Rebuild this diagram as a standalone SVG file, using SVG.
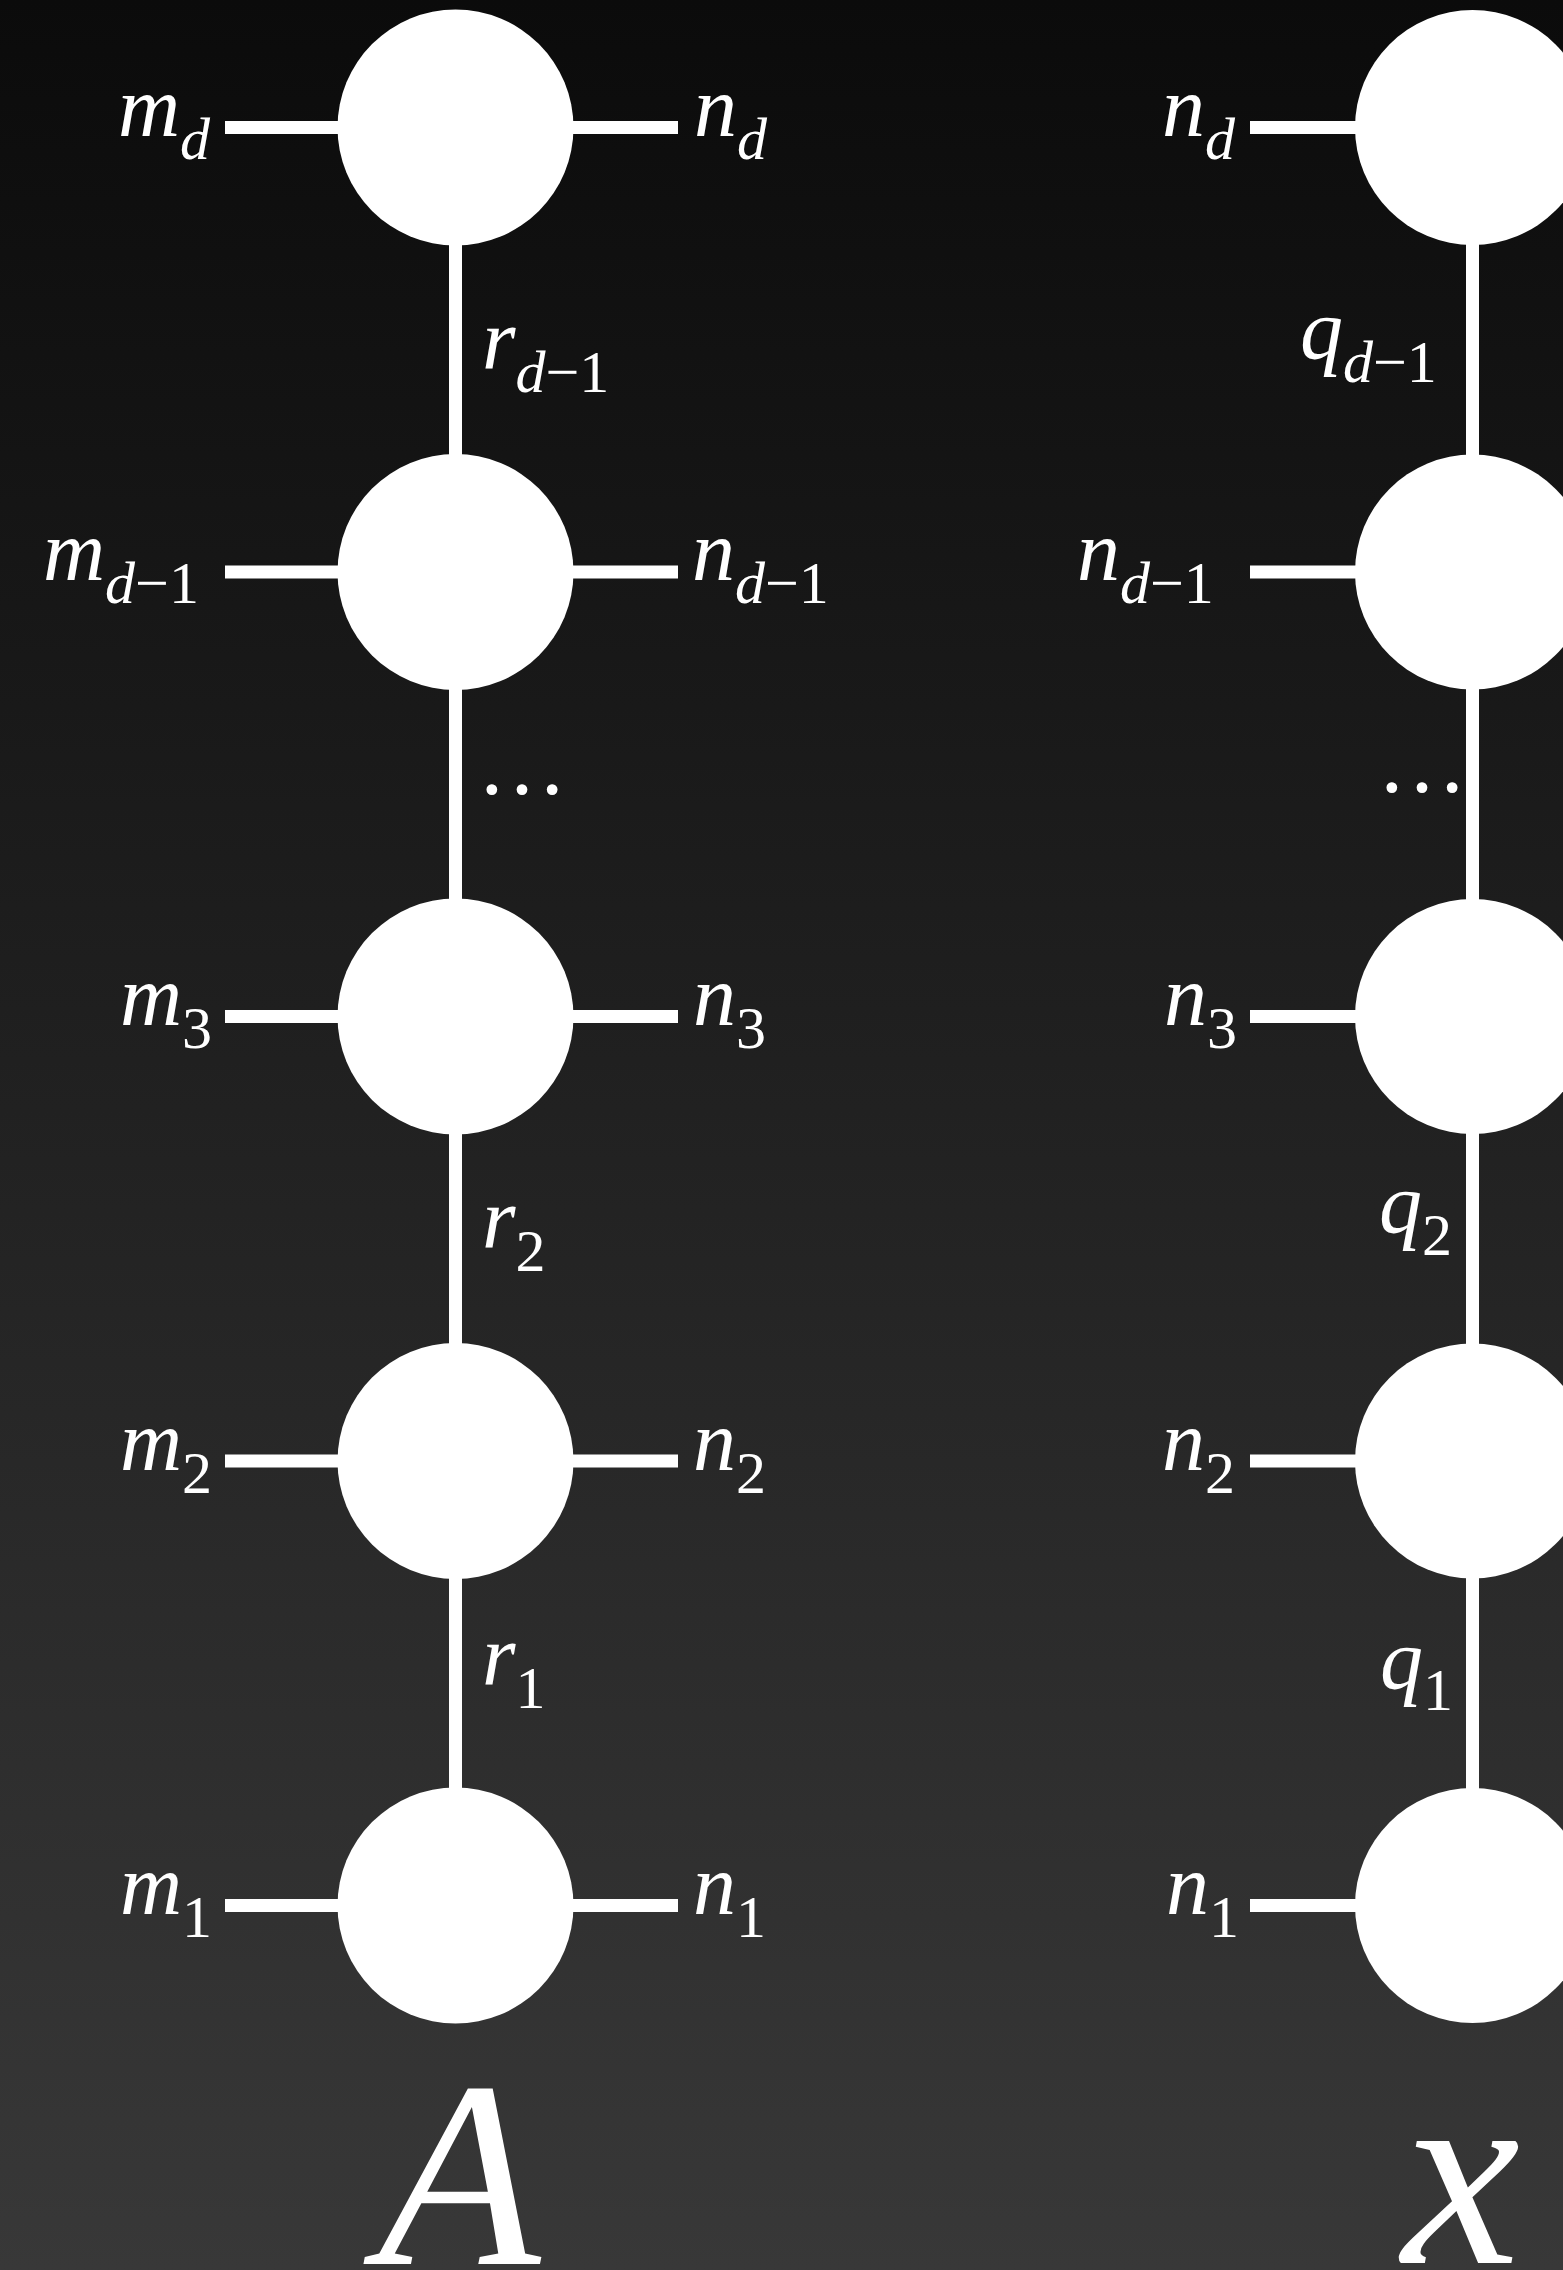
<svg xmlns="http://www.w3.org/2000/svg" width="1563" height="2270" viewBox="0 0 1563 2270">
<defs>
<linearGradient id="bg" x1="0" y1="0" x2="0" y2="1">
<stop offset="0" stop-color="#0b0b0b"/>
<stop offset="1" stop-color="#383838"/>
</linearGradient>
</defs>
<style>
.edge{stroke:#fff;stroke-width:13;fill:none}
.node{fill:#fff}
.t{font-family:"Liberation Serif","Times New Roman",serif;fill:#fff;font-size:86px}
.i{font-style:italic}
.s{font-size:60px}
.big{font-size:266px;font-style:italic}
</style>
<rect x="0" y="0" width="1563" height="2270" fill="url(#bg)"/>
<g id="connectors">
<line class="edge" x1="455.5" y1="127.5" x2="455.5" y2="1905.5"/>
<line class="edge" x1="1472.5" y1="127.5" x2="1472.5" y2="1905.5"/>
<line class="edge" x1="225" y1="127.5" x2="678" y2="127.5"/>
<line class="edge" x1="225" y1="572" x2="678" y2="572"/>
<line class="edge" x1="225" y1="1016.5" x2="678" y2="1016.5"/>
<line class="edge" x1="225" y1="1461" x2="678" y2="1461"/>
<line class="edge" x1="225" y1="1905.5" x2="678" y2="1905.5"/>
<line class="edge" x1="1250" y1="127.5" x2="1472.5" y2="127.5"/>
<line class="edge" x1="1250" y1="572" x2="1472.5" y2="572"/>
<line class="edge" x1="1250" y1="1016.5" x2="1472.5" y2="1016.5"/>
<line class="edge" x1="1250" y1="1461" x2="1472.5" y2="1461"/>
<line class="edge" x1="1250" y1="1905.5" x2="1472.5" y2="1905.5"/>
</g>
<g id="A5"><circle class="node" cx="455.5" cy="127.5" r="118"/></g>
<g id="A4"><circle class="node" cx="455.5" cy="572" r="118"/></g>
<g id="A3"><circle class="node" cx="455.5" cy="1016.5" r="118"/></g>
<g id="A2"><circle class="node" cx="455.5" cy="1461" r="118"/></g>
<g id="A1"><circle class="node" cx="455.5" cy="1905.5" r="118"/></g>
<g id="x5"><circle class="node" cx="1472.5" cy="127.5" r="117.5"/></g>
<g id="x4"><circle class="node" cx="1472.5" cy="572" r="117.5"/></g>
<g id="x3"><circle class="node" cx="1472.5" cy="1016.5" r="117.5"/></g>
<g id="x2"><circle class="node" cx="1472.5" cy="1461" r="117.5"/></g>
<g id="x1"><circle class="node" cx="1472.5" cy="1905.5" r="117.5"/></g>
<g id="labels">
<text class="t" x="118" y="136"><tspan class="i">m</tspan><tspan class="s i" dy="23">d</tspan></text>
<text class="t" x="43" y="580"><tspan class="i">m</tspan><tspan class="s" dy="23"><tspan class="i">d</tspan>−1</tspan></text>
<text class="t" x="120" y="1025"><tspan class="i">m</tspan><tspan class="s" dy="23">3</tspan></text>
<text class="t" x="120" y="1469.5"><tspan class="i">m</tspan><tspan class="s" dy="23">2</tspan></text>
<text class="t" x="120" y="1914"><tspan class="i">m</tspan><tspan class="s" dy="23">1</tspan></text>
<text class="t" x="694" y="136"><tspan class="i">n</tspan><tspan class="s i" dy="23">d</tspan></text>
<text class="t" x="692" y="580"><tspan class="i">n</tspan><tspan class="s" dy="23"><tspan class="i">d</tspan>−1</tspan></text>
<text class="t" x="693" y="1025"><tspan class="i">n</tspan><tspan class="s" dy="23">3</tspan></text>
<text class="t" x="693" y="1469.5"><tspan class="i">n</tspan><tspan class="s" dy="23">2</tspan></text>
<text class="t" x="693" y="1914"><tspan class="i">n</tspan><tspan class="s" dy="23">1</tspan></text>
<text class="t" x="1162" y="136"><tspan class="i">n</tspan><tspan class="s i" dy="23">d</tspan></text>
<text class="t" x="1077" y="580"><tspan class="i">n</tspan><tspan class="s" dy="23"><tspan class="i">d</tspan>−1</tspan></text>
<text class="t" x="1164" y="1025"><tspan class="i">n</tspan><tspan class="s" dy="23">3</tspan></text>
<text class="t" x="1162" y="1469.5"><tspan class="i">n</tspan><tspan class="s" dy="23">2</tspan></text>
<text class="t" x="1166" y="1914"><tspan class="i">n</tspan><tspan class="s" dy="23">1</tspan></text>
<text class="t" x="482" y="369"><tspan class="i">r</tspan><tspan class="s" dy="23"><tspan class="i">d</tspan>−1</tspan></text>
<text class="t" x="482" y="1248"><tspan class="i">r</tspan><tspan class="s" dy="23">2</tspan></text>
<text class="t" x="482" y="1685"><tspan class="i">r</tspan><tspan class="s" dy="23">1</tspan></text>
<text class="t" x="1300" y="358"><tspan class="i">q</tspan><tspan class="s" dy="24"><tspan class="i">d</tspan>−1</tspan></text>
<text class="t" x="1379" y="1232"><tspan class="i">q</tspan><tspan class="s" dy="23">2</tspan></text>
<text class="t" x="1380" y="1688"><tspan class="i">q</tspan><tspan class="s" dy="22">1</tspan></text>
<text class="t" x="477" y="794" style="font-size:90px">…</text>
<text class="t" x="1377" y="792" style="font-size:90px">…</text>
<text class="t big" x="378" y="2264">A</text>
<text class="t big" x="1402" y="2263">x</text>
</g>
</svg>
